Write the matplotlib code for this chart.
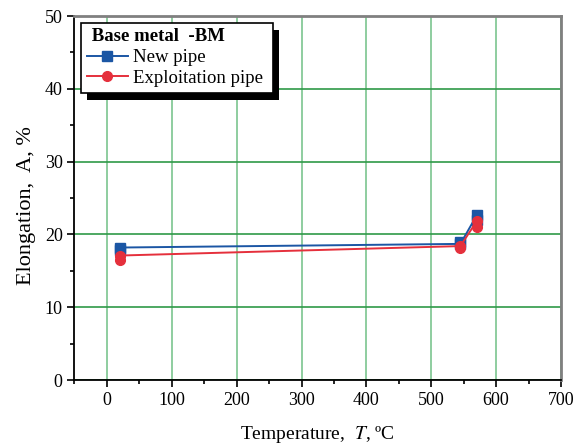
import matplotlib
matplotlib.use('Agg')
import matplotlib.pyplot as plt
from matplotlib.patches import Rectangle
from matplotlib.ticker import MultipleLocator

plt.rcParams['font.family'] = ['Liberation Serif', 'DejaVu Serif']
plt.rcParams['mathtext.fontset'] = 'stix'

# test temperatures, degC
temps = [20, 545, 570]

# elongation, % - first specimen (joined by line) and second specimen
new_pipe = [18.2, 18.7, 22.6]
new_pipe_2 = [17.9, 19.0, 22.0]
expl_pipe = [17.1, 18.4, 21.8]
expl_pipe_2 = [16.5, 18.1, 21.0]

blue = '#1b56a4'
red = '#e5303c'

fig = plt.figure(figsize=(5.73, 4.45), dpi=100)
ax = fig.add_axes([0.130, 0.146, 0.849, 0.818])

ax.plot(temps, new_pipe, color=blue, lw=1.4, marker='s', ms=6.5,
        label='New pipe', zorder=3)
ax.plot(temps, new_pipe_2, ls='none', color=blue, marker='s', ms=6.5, zorder=3)
ax.plot(temps, expl_pipe, color=red, lw=1.4, marker='o', ms=7,
        label='Exploitation pipe ', zorder=4)
ax.plot(temps, expl_pipe_2, ls='none', color=red, marker='o', ms=7, zorder=4)

ax.set_xlim(-50, 700)
ax.set_ylim(0, 50)
ax.xaxis.set_major_locator(MultipleLocator(100))
ax.xaxis.set_minor_locator(MultipleLocator(50))
ax.yaxis.set_major_locator(MultipleLocator(10))
ax.yaxis.set_minor_locator(MultipleLocator(5))
ax.tick_params(which='both', direction='out', labelsize=13, width=1.2,
               top=False, right=False)
ax.tick_params(which='major', length=5)
ax.tick_params(which='minor', length=3)

ax.grid(True, axis='x', which='major', color='#7cc58f', lw=1.2)
ax.grid(True, axis='y', which='major', color='#2f9a48', lw=1.2)
ax.set_axisbelow(True)

for side in ['left', 'bottom']:
    ax.spines[side].set_color('black')
    ax.spines[side].set_linewidth(1.3)
for side in ['top', 'right']:
    ax.spines[side].set_color('#808080')
    ax.spines[side].set_linewidth(2)

ax.set_xlabel('Temperature,  $T$, ºC', fontsize=14, labelpad=11)
ax.set_ylabel('Elongation,  A, %', fontsize=16)
ax.yaxis.set_label_coords(-0.08, 0.48)

leg = ax.legend(loc='upper left', bbox_to_anchor=(0.0, 1.0),
                title=' Base metal  -BM', alignment='left',
                fontsize=13.5, title_fontproperties={'weight': 'bold', 'size': 13.5},
                fancybox=False, edgecolor='black', framealpha=1,
                handlelength=2.2, handletextpad=0.25, borderpad=0.3,
                labelspacing=0.2, borderaxespad=0.35)
leg.get_frame().set_linewidth(1.2)
leg.set_zorder(10)

# black drop shadow behind the legend box
fig.canvas.draw()
bb = leg.get_window_extent()
shadow = Rectangle((bb.x0 + 6, bb.y0 - 7), bb.width, bb.height,
                   transform=None, facecolor='black', edgecolor='none',
                   zorder=9)
ax.add_artist(shadow)

fig.savefig('out.png', dpi=100)
